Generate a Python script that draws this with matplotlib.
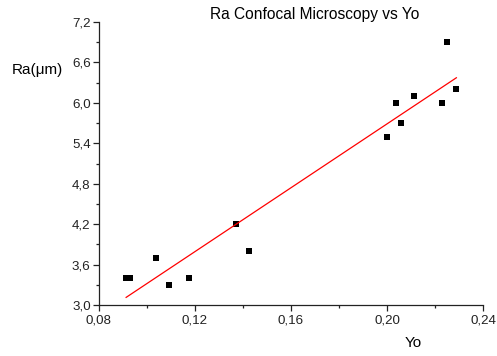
import matplotlib
matplotlib.use("Agg")
import matplotlib.pyplot as plt
import numpy as np
from matplotlib.ticker import FuncFormatter, MultipleLocator

plt.rcParams['font.family'] = ['Liberation Sans', 'DejaVu Sans']

yo = [0.0913, 0.0930, 0.1036, 0.1092, 0.1176, 0.1370, 0.1426,
      0.2001, 0.2036, 0.2059, 0.2114, 0.2229, 0.2251, 0.2289]
ra = [3.4, 3.4, 3.7, 3.3, 3.4, 4.2, 3.8,
      5.5, 6.0, 5.7, 6.1, 6.0, 6.9, 6.2]

fig = plt.figure(figsize=(4.97, 3.56), dpi=100)
ax = fig.add_axes([99/497, 1-305/356, 384/497, 283/356])

ax.plot(yo, ra, 's', color='black', markersize=5, markeredgewidth=0)
coef = np.polyfit(yo, ra, 1)
xs = np.array([min(yo), max(yo)])
ax.plot(xs, np.polyval(coef, xs), color='red', linewidth=0.9)

ax.set_xlim(0.08, 0.24)
ax.set_ylim(3.0, 7.2)
ax.xaxis.set_major_locator(MultipleLocator(0.04))
ax.xaxis.set_minor_locator(MultipleLocator(0.02))
ax.yaxis.set_major_locator(MultipleLocator(0.6))
ax.yaxis.set_minor_locator(MultipleLocator(0.3))
ax.xaxis.set_major_formatter(FuncFormatter(lambda v, p: f"{v:.2f}".replace('.', ',')))
ax.yaxis.set_major_formatter(FuncFormatter(lambda v, p: f"{v:.1f}".replace('.', ',')))

for s in ['top', 'right']:
    ax.spines[s].set_visible(False)
for s in ['left', 'bottom']:
    ax.spines[s].set_linewidth(0.9)
    ax.spines[s].set_color('#222222')

ax.tick_params(which='major', direction='out', length=4, width=0.9, labelsize=9.6, colors='#222222', pad=2)
ax.tick_params(which='minor', direction='out', length=2.5, width=0.9, colors='#222222')
ax.tick_params(axis='x', which='major', pad=3)

fig.text(315/497, 1-15/356, 'Ra Confocal Microscopy vs Yo', ha='center', va='center', fontsize=11.2)
fig.text(37/497, 1-70/356, 'Ra(\u03bcm)', ha='center', va='center', fontsize=11)
fig.text(413/497, 1-343/356, 'Yo', ha='center', va='center', fontsize=11)

fig.savefig('out.png', dpi=100)
